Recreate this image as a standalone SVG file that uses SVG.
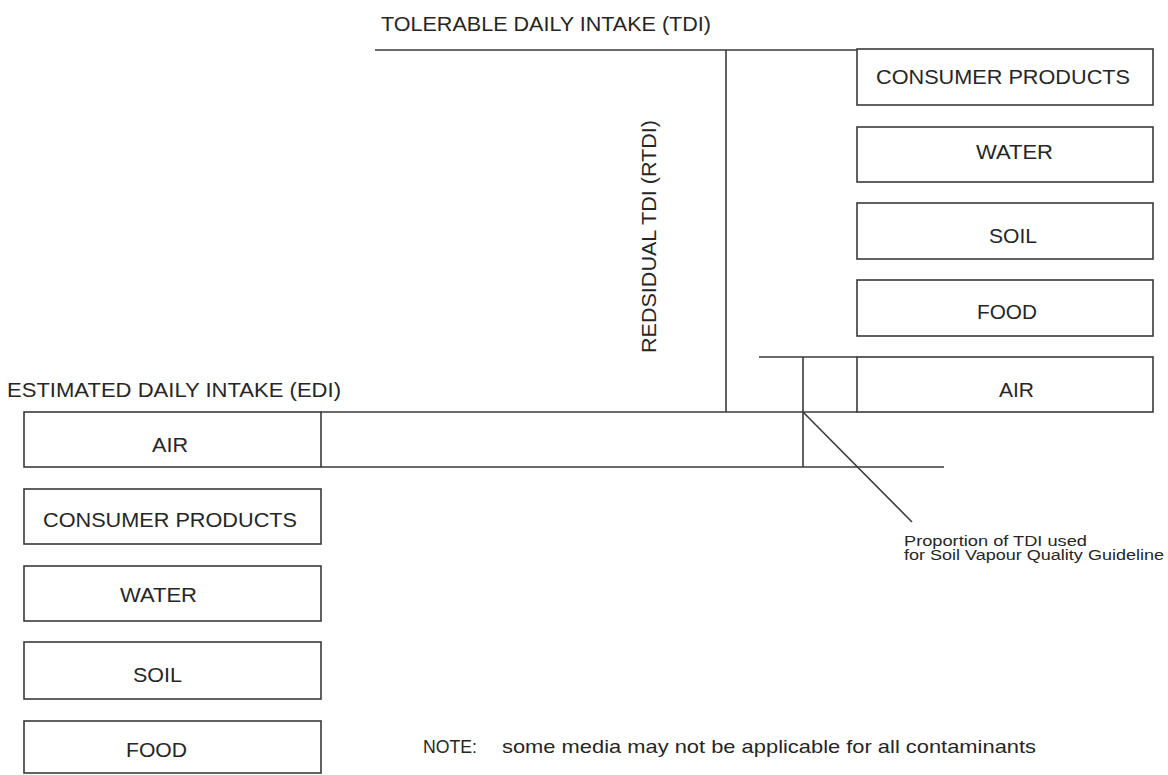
<svg xmlns="http://www.w3.org/2000/svg" width="1168" height="775" viewBox="0 0 1168 775">
<style>
.box{fill:#fff;stroke:#3a3a3a;stroke-width:1.6}
.ln{fill:none;stroke:#3a3a3a;stroke-width:1.6}
.t{font-family:"Liberation Sans",Arial,sans-serif;font-size:21px;fill:#262626}
.n{font-family:"Liberation Sans",Arial,sans-serif;font-size:19px;fill:#262626}
.s{font-family:"Liberation Sans",Arial,sans-serif;font-size:14px;fill:#262626}
</style>
<rect width="1168" height="775" fill="#fff"/>
<g id="headings">
<text class="t" x="381" y="31" textLength="330" lengthAdjust="spacingAndGlyphs">TOLERABLE DAILY INTAKE (TDI)</text>
<text class="t" x="7" y="397" textLength="334" lengthAdjust="spacingAndGlyphs">ESTIMATED DAILY INTAKE (EDI)</text>
<text class="t" transform="translate(656,353) rotate(-90)" x="0" y="0" textLength="233" lengthAdjust="spacingAndGlyphs">REDSIDUAL TDI (RTDI)</text>
</g>
<g id="connectors">
<line class="ln" x1="375" y1="50" x2="857" y2="50"/>
<line class="ln" x1="726" y1="50" x2="726" y2="412"/>
<line class="ln" x1="759" y1="357" x2="857" y2="357"/>
<line class="ln" x1="803" y1="357" x2="803" y2="467"/>
<line class="ln" x1="321" y1="412" x2="857" y2="412"/>
<line class="ln" x1="321" y1="467" x2="944" y2="467"/>
<line class="ln" x1="803" y1="412" x2="912" y2="522"/>
</g>
<g id="tdi-consumer"><rect class="box" x="857" y="49" width="296" height="56"/><text class="t" x="876" y="84" textLength="254" lengthAdjust="spacingAndGlyphs">CONSUMER PRODUCTS</text></g>
<g id="tdi-water"><rect class="box" x="857" y="127" width="296" height="55"/><text class="t" x="976" y="159" textLength="77" lengthAdjust="spacingAndGlyphs">WATER</text></g>
<g id="tdi-soil"><rect class="box" x="857" y="203" width="296" height="56"/><text class="t" x="989" y="243" textLength="48" lengthAdjust="spacingAndGlyphs">SOIL</text></g>
<g id="tdi-food"><rect class="box" x="857" y="280" width="296" height="56"/><text class="t" x="977" y="319" textLength="60" lengthAdjust="spacingAndGlyphs">FOOD</text></g>
<g id="tdi-air"><rect class="box" x="857" y="357" width="296" height="55"/><text class="t" x="999" y="397" textLength="35" lengthAdjust="spacingAndGlyphs">AIR</text></g>
<g id="edi-air"><rect class="box" x="24" y="412" width="297" height="55"/><text class="t" x="152" y="452" textLength="36" lengthAdjust="spacingAndGlyphs">AIR</text></g>
<g id="edi-consumer"><rect class="box" x="24" y="489" width="297" height="55"/><text class="t" x="43" y="527" textLength="254" lengthAdjust="spacingAndGlyphs">CONSUMER PRODUCTS</text></g>
<g id="edi-water"><rect class="box" x="24" y="566" width="297" height="55"/><text class="t" x="120" y="602" textLength="77" lengthAdjust="spacingAndGlyphs">WATER</text></g>
<g id="edi-soil"><rect class="box" x="24" y="642" width="297" height="57"/><text class="t" x="133" y="682" textLength="49" lengthAdjust="spacingAndGlyphs">SOIL</text></g>
<g id="edi-food"><rect class="box" x="24" y="721" width="297" height="52"/><text class="t" x="126" y="757" textLength="61" lengthAdjust="spacingAndGlyphs">FOOD</text></g>
<g id="proportion-label">
<text class="s" x="904" y="546" textLength="183" lengthAdjust="spacingAndGlyphs">Proportion of TDI used</text>
<text class="s" x="904" y="560" textLength="260" lengthAdjust="spacingAndGlyphs">for Soil Vapour Quality Guideline</text>
</g>
<g id="note">
<text class="n" x="423" y="753" textLength="54" lengthAdjust="spacingAndGlyphs">NOTE:</text>
<text class="n" x="502" y="753" textLength="534" lengthAdjust="spacingAndGlyphs">some media may not be applicable for all contaminants</text>
</g>
</svg>
